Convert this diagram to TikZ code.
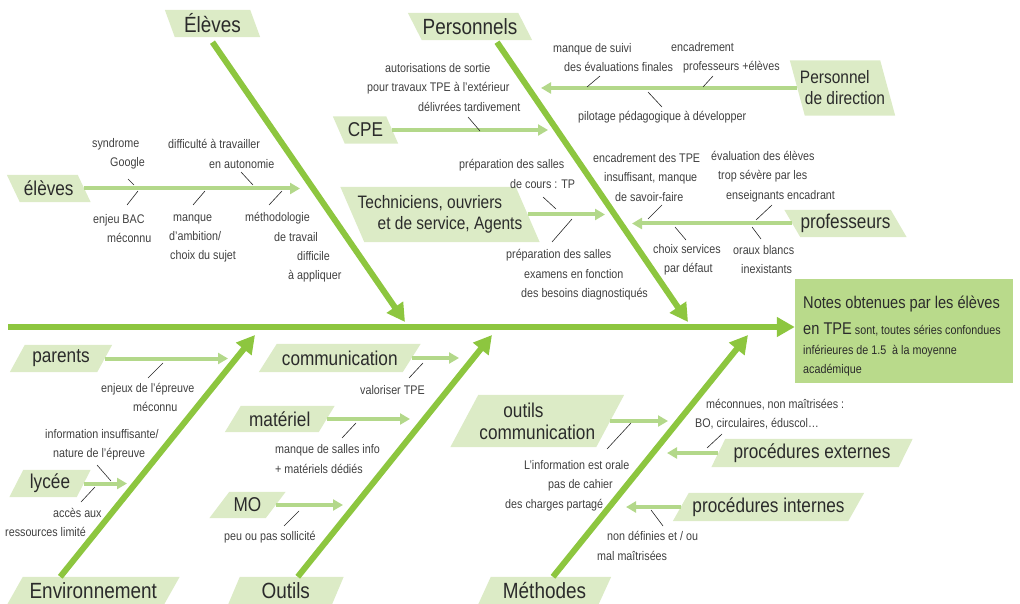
\documentclass[tikz,border=0pt]{standalone}
\usepackage{fontspec}
\setmainfont{Liberation Sans}[FakeStretch=0.86]
\usetikzlibrary{arrows.meta,backgrounds}

\definecolor{bonegreen}{HTML}{8DC63F}
\definecolor{subgreen}{HTML}{B3D88A}
\definecolor{labfill}{HTML}{DCEBC6}
\definecolor{resfill}{HTML}{B9DA8B}
\definecolor{labtxt}{HTML}{2B2B2B}
\definecolor{notetxt}{HTML}{404040}

% slanted band behind a label node: #1 node name, #2 half of the horizontal slant
\newcommand\slantfill[2]{%
  \fill[labfill] ([xshift={-(#2)}]#1.north west) -- ([xshift={-(#2)}]#1.north east)
    -- ([xshift={#2}]#1.south east) -- ([xshift={#2}]#1.south west) -- cycle;}

\begin{document}
\begin{tikzpicture}[x=1pt,y=-1pt,
  biglab/.style={font=\fontsize{22}{24}\selectfont, text=labtxt, inner sep=0pt, align=left},
  lab/.style={font=\fontsize{20}{22}\selectfont, text=labtxt, inner sep=0pt, align=left},
  labtwo/.style={font=\fontsize{18}{21}\selectfont, text=labtxt, inner sep=0pt, align=left},
  note/.style={font=\fontsize{12.5}{19.4}\selectfont, text=notetxt, inner sep=0pt, align=left, anchor=west},
  bone/.style={line width=6pt, draw=bonegreen, -{Triangle[length=18pt,width=19pt]}},
  sub/.style={line width=4pt, draw=subgreen, -{Triangle[length=10pt,width=11pt]}},
  tick/.style={line width=0.6pt, draw=black!85},
  res/.style={fill=resfill, inner sep=0pt, minimum width=218pt, minimum height=104pt},
  restext/.style={inner sep=0pt, align=left, anchor=west, text=labtxt,
    font=\fontsize{12.5}{19.6}\selectfont}
]
\useasboundingbox (0,0) rectangle (1020,604);

% ---------- category labels ----------
\node[biglab, minimum width=85pt, minimum height=27pt] (Eleves) at (212.5,23.5) {Élèves};
\node[biglab, minimum width=110pt, minimum height=27pt] (Pers) at (470,26.5) {Personnels};
\node[biglab, minimum width=156.5pt, minimum height=28pt] (Env) at (93.25,591) {Environnement};
\node[biglab, minimum width=103.5pt, minimum height=28pt] (Out) at (285.75,591) {Outils};
\node[biglab, minimum width=120pt, minimum height=28pt] (Meth) at (544.5,591) {Méthodes};

% ---------- sub-cause labels ----------
\node[lab, minimum width=70.5pt, minimum height=27pt] (eleves) at (48.75,188.5) {élèves};
\node[lab, minimum width=53pt, minimum height=27pt] (CPE) at (365.5,130) {CPE};
\node[labtwo, minimum width=175pt, minimum height=55pt] (Tech) at (440,214.5)
  {Techniciens, ouvriers\\\hspace*{20pt}et de service, Agents};
\node[labtwo, minimum width=90pt, minimum height=55pt] (PD) at (842.5,88)
  {Personnel\\\hspace*{5pt}de direction};
\node[lab, minimum width=106pt, minimum height=27pt] (prof) at (845.5,223.5) {professeurs};

\node[lab, minimum width=87pt, minimum height=27pt] (parents) at (61,358.5) {parents};
\node[lab, minimum width=67pt, minimum height=27pt] (lycee) at (50,483.5) {lycée};
\node[lab, minimum width=143.5pt, minimum height=28pt] (comm) at (339.75,358) {communication};
\node[lab, minimum width=93.5pt, minimum height=26pt] (mat) at (279.75,419) {matériel};
\node[lab, minimum width=56pt, minimum height=26pt] (MO) at (247.5,505) {MO};
\node[lab, minimum width=145.5pt, minimum height=52pt] (oc) at (537.25,421)
  {\hspace*{24pt}outils\\communication};
\node[lab, minimum width=187pt, minimum height=28pt] (pe) at (812,453) {procédures externes};
\node[lab, minimum width=175pt, minimum height=28pt] (pi) at (768.5,507) {procédures internes};

% ---------- effect ----------
\node[res] (res) at (904,331) {};
\node[restext] (restxt) at (803,336)
  {{\fontsize{17}{20}\selectfont Notes obtenues par les élèves}\\[6.5pt]
   \mbox{{\fontsize{17}{20}\selectfont en TPE} sont, toutes séries confondues}\\
   inférieures de 1.5~~à la moyenne\\
   académique};

\begin{pgfonlayer}{background}
  \slantfill{Eleves}{5pt}
  \slantfill{Pers}{7pt}
  \slantfill{eleves}{6.5pt}
  \slantfill{CPE}{6pt}
  \slantfill{Tech}{12pt}
  \slantfill{PD}{7.5pt}
  \slantfill{prof}{8pt}
  \slantfill{Env}{-8pt}
  \slantfill{Out}{-6pt}
  \slantfill{Meth}{-6.5pt}
  \slantfill{parents}{-7.5pt}
  \slantfill{lycee}{-7pt}
  \slantfill{comm}{-9pt}
  \slantfill{mat}{-8pt}
  \slantfill{MO}{-10pt}
  \slantfill{oc}{-14pt}
  \slantfill{pe}{-7pt}
  \slantfill{pi}{-8pt}
\end{pgfonlayer}

% ---------- spine and main bones ----------
\coordinate (spineStart) at (8,327);
\coordinate (eleTip) at (405,322);
\coordinate (perTip) at (688,322);
\coordinate (envTip) at (255,335);
\coordinate (outTip) at (492,335);
\coordinate (metTip) at (748,335);

\draw[bone] (spineStart) -- (spineStart -| res.west);
\draw[bone] ([yshift=-5pt]Eleves.south) -- (eleTip);
\draw[bone] ([xshift=27pt,yshift=-2pt]Pers.south) -- (perTip);
\draw[bone] ([xshift=-33pt]Env.north) -- (envTip);
\draw[bone] ([xshift=12pt]Out.north) -- (outTip);
\draw[bone] ([xshift=8.5pt]Meth.north) -- (metTip);

% ---------- sub-cause arrows ----------
\coordinate (tEleves) at (300,188.5);
\coordinate (tCPE) at (548,130);
\coordinate (tTech) at (605,214.5);
\coordinate (tPD) at (541,88);
\coordinate (tProf) at (632,223.5);
\coordinate (tParents) at (228,358.5);
\coordinate (tLycee) at (127,483.5);
\coordinate (tComm) at (459,358);
\coordinate (tMat) at (410,419);
\coordinate (tMO) at (343,505);
\coordinate (tOC) at (668,421);
\coordinate (tPE) at (667,453);
\coordinate (tPI) at (626,507);

\draw[sub] (eleves.east) -- (tEleves);
\draw[sub] (CPE.east) -- (tCPE);
\draw[sub] (Tech.east) -- (tTech);
\draw[sub] (PD.west) -- (tPD);
\draw[sub] (prof.west) -- (tProf);
\draw[sub] (parents.east) -- (tParents);
\draw[sub] (lycee.east) -- (tLycee);
\draw[sub] (comm.east) -- (tComm);
\draw[sub] (mat.east) -- (tMat);
\draw[sub] (MO.east) -- (tMO);
\draw[sub] (oc.east) -- (tOC);
\draw[sub] (pe.west) -- (tPE);
\draw[sub] (pi.west) -- (tPI);

% ---------- notes ----------
\node[note] (n1) at (92,154) {syndrome\\\hspace*{18pt}Google};
\node[note] (n2) at (168,154) {difficulté à travailler\\\hspace*{41pt}en autonomie};
\node[note] (n3) at (93,228.5) {enjeu BAC\\\hspace*{14pt}méconnu};
\node[note] (n4) at (169,238.5) {\hspace*{4pt}manque\\d’ambition/\\\hspace*{1pt}choix du sujet};
\node[note] (n5) at (245,247.5) {méthodologie\\\hspace*{29pt}de travail\\\hspace*{52pt}difficile\\\hspace*{43pt}à appliquer};
\node[note] (n6) at (367,87.5) {\hspace*{18pt}autorisations de sortie\\pour travaux TPE à l’extérieur\\\hspace*{51pt}délivrées tardivement};
\node[note] (n7) at (553,57.5) {manque de suivi\\\hspace*{11pt}des évaluations finales};
\node[note] (n8) at (671,57.5) {encadrement\\\hspace*{12pt}professeurs +élèves};
\node[note] (n9) at (578,117) {pilotage pédagogique à développer};
\node[note] (n10) at (459,174) {préparation des salles\\\hspace*{51pt}de cours : TP};
\node[note] (n11) at (506,275) {préparation des salles\\\hspace*{18pt}examens en fonction\\\hspace*{15pt}des besoins diagnostiqués};
\node[note] (n12) at (593,177.5) {encadrement des TPE\\\hspace*{11pt}insuffisant, manque\\\hspace*{22pt}de savoir-faire};
\node[note] (n13) at (711,176.5) {évaluation des élèves\\\hspace*{7pt}trop sévère par les\\\hspace*{15pt}enseignants encadrant};
\node[note] (n14) at (653,259.5) {choix services\\\hspace*{11pt}par défaut};
\node[note] (n15) at (733,259.5) {oraux blancs\\\hspace*{8pt}inexistants};
\node[note] (n16) at (101,397.5) {enjeux de l’épreuve\\\hspace*{32pt}méconnu};
\node[note] (n17) at (45,445) {information insuffisante/\\\hspace*{8pt}nature de l’épreuve};
\node[note] (n18) at (5,522.5) {\hspace*{48pt}accès aux\\ressources limité};
\node[note] (n19) at (360,390) {valoriser TPE};
\node[note] (n20) at (275,459) {manque de salles info\\+ matériels dédiés};
\node[note] (n21) at (224,537) {peu ou pas sollicité};
\node[note] (n22) at (505,485.5) {\hspace*{19pt}L’information est orale\\\hspace*{43pt}pas de cahier\\des charges partagé};
\node[note] (n23) at (695,414) {\hspace*{11pt}méconnues, non maîtrisées :\\BO, circulaires, éduscol…};
\node[note] (n24) at (597,546) {\hspace*{10pt}non définies et / ou\\mal maîtrisées};

% ---------- leader ticks ----------
\draw[tick] (128,179) -- (134,185);
\draw[tick] (241,172) -- (253,185);
\draw[tick] (138,191) -- (127,205);
\draw[tick] (205,191) -- (193,205);
\draw[tick] (282,191) -- (269,205);
\draw[tick] (468,117) -- (480,131);
\draw[tick] (600,76) -- (587,87);
\draw[tick] (713,76) -- (703,87);
\draw[tick] (648,92) -- (662,107);
\draw[tick] (543,197) -- (556,209);
\draw[tick] (572,219) -- (552,242);
\draw[tick] (662,205) -- (648,219);
\draw[tick] (772,205) -- (756,220);
\draw[tick] (675,227) -- (686,240);
\draw[tick] (752,227) -- (761,239);
\draw[tick] (163,363) -- (148,378);
\draw[tick] (97,465) -- (111,481);
\draw[tick] (95,487) -- (81,502);
\draw[tick] (423,363) -- (409,378);
\draw[tick] (356,423) -- (342,438);
\draw[tick] (299,511) -- (284,526);
\draw[tick] (631,423) -- (607,449);
\draw[tick] (722,434) -- (707,448);
\draw[tick] (651,510) -- (663,526);
\end{tikzpicture}
\end{document}
